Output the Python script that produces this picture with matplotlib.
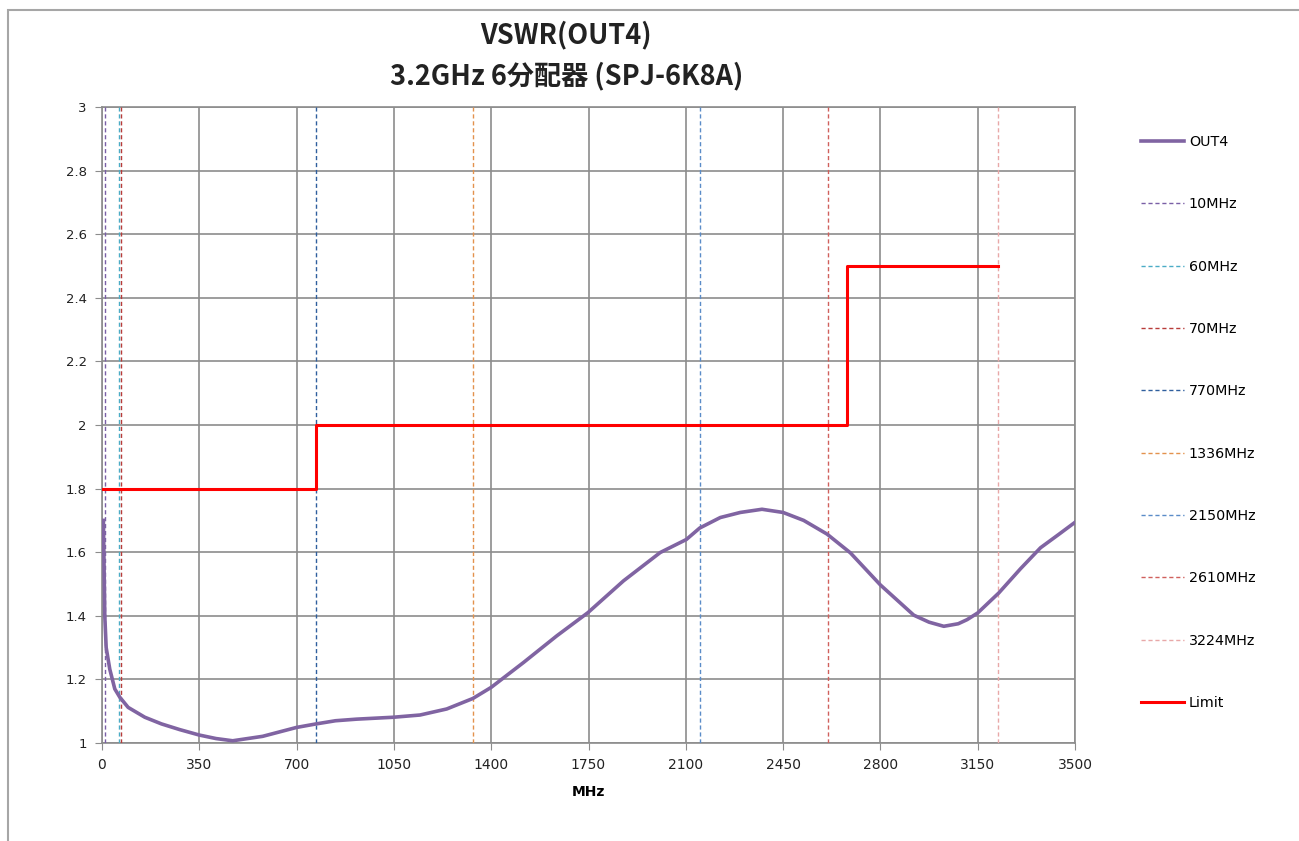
import matplotlib
matplotlib.use('Agg')
import matplotlib.pyplot as plt
from matplotlib.patches import Rectangle

freq = [5, 10, 15, 28, 46, 64, 94, 154, 214, 280, 350, 410, 470, 578, 700, 770,
        840, 916, 1048, 1144, 1240, 1334, 1400, 1516, 1636, 1748, 1876, 2008,
        2102, 2150, 2224, 2296, 2374, 2450, 2524, 2608, 2692, 2800, 2920, 2975,
        3028, 3080, 3112, 3150, 3226, 3304, 3376, 3440, 3500]
vswr = [1.70, 1.40, 1.30, 1.232, 1.17, 1.144, 1.112, 1.081, 1.06, 1.042, 1.025,
        1.014, 1.007, 1.021, 1.049, 1.06, 1.07, 1.075, 1.081, 1.088, 1.107,
        1.14, 1.175, 1.253, 1.337, 1.41, 1.51, 1.599, 1.64, 1.676, 1.709, 1.725,
        1.735, 1.725, 1.70, 1.657, 1.598, 1.497, 1.402, 1.38, 1.367, 1.375,
        1.388, 1.409, 1.472, 1.548, 1.614, 1.655, 1.694]

# limit mask
limit_freq = [0, 770, 770, 2680, 2680, 3224]
limit_vswr = [1.8, 1.8, 2.0, 2.0, 2.5, 2.5]

# marker frequencies
marker_freq = [10, 60, 70, 770, 1336, 2150, 2610, 3224]
marker_labels = ['10MHz', '60MHz', '70MHz', '770MHz', '1336MHz', '2150MHz', '2610MHz', '3224MHz']
marker_colors = ['#7a5fa6', '#4bacc6', '#b83c3a', '#2f5f9e', '#e3924d', '#5b8cc8', '#d0605c', '#e8a8a8']

xticks = list(range(0, 3501, 350))
yticks = [1, 1.2, 1.4, 1.6, 1.8, 2, 2.2, 2.4, 2.6, 2.8, 3]

fig = plt.figure(figsize=(12.99, 8.41), dpi=100)
ax = fig.add_axes([102 / 1299, 1 - 743 / 841, 973 / 1299, 636 / 841])

# chart frame (Excel style)
fig.patches.append(Rectangle((8 / 1299, -0.5), 2, 0.5 + 1 - 10 / 841, transform=fig.transFigure,
                             fill=False, edgecolor='#a6a6a6', linewidth=1.5, clip_on=False))

handles = []
h, = ax.plot(freq, vswr, color='#8064a2', linewidth=2.6, label='OUT4', zorder=5)
handles.append(h)
for f, lab, c in zip(marker_freq, marker_labels, marker_colors):
    h, = ax.plot([f, f], [1, 3], color=c, linewidth=1.0, linestyle=(0, (3, 2)), label=lab, zorder=3)
    handles.append(h)
h, = ax.plot(limit_freq, limit_vswr, color='#ff0000', linewidth=2.2, label='Limit', zorder=6)
handles.append(h)

ax.set_xlim(0, 3500)
ax.set_ylim(1, 3)
ax.set_xticks(xticks)
ax.set_yticks(yticks)
ax.set_yticklabels(['%g' % v for v in yticks], fontsize=9.5, family='DejaVu Sans')
ax.set_xticklabels([str(v) for v in xticks], fontsize=10,
                   family=['Liberation Sans Narrow', 'DejaVu Sans'])
ax.grid(True, color='#8c8c8c', linewidth=1.2)
ax.set_axisbelow(True)
for s in ax.spines.values():
    s.set_color('#8c8c8c')
    s.set_linewidth(1.2)
ax.tick_params(direction='out', length=5, color='#8c8c8c', pad=6, labelcolor='#222222')
ax.set_xlabel('MHz', fontsize=10, fontweight='bold', labelpad=9)

fig.text(566 / 1299, 1 - 35 / 841, 'VSWR(OUT4)', ha='center', va='center', fontsize=19.5,
         fontweight='bold', family=['Noto Sans CJK JP', 'DejaVu Sans'], color='#222222')
fig.text(567 / 1299, 1 - 76 / 841, '3.2GHz 6分配器 (SPJ-6K8A)', ha='center', va='center', fontsize=19.5,
         fontweight='bold', family=['Noto Sans CJK JP', 'DejaVu Sans'], color='#222222')

leg = fig.legend(handles=handles, loc='upper left', bbox_to_anchor=(1128 / 1299, 1 - 122 / 841),
                 frameon=False, handlelength=3.0, handletextpad=0.35,
                 labelspacing=3.38, prop={'family': 'DejaVu Sans', 'size': 10.3})

fig.savefig('out.png', dpi=100)
